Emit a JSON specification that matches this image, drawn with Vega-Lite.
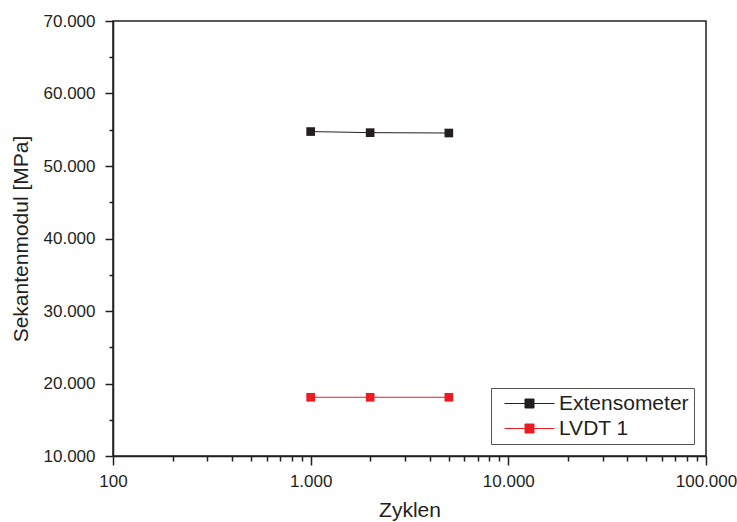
{
  "$schema": "https://vega.github.io/schema/vega-lite/v6.json",
  "width": 593,
  "height": 435,
  "autosize": "none",
  "padding": {"left": 113, "top": 21, "right": 31, "bottom": 66},
  "background": "white",
  "config": {
    "font": "Liberation Sans",
    "view": {"stroke": "#231f20", "strokeWidth": 1.5},
    "axis": {
      "domainColor": "#231f20",
      "domainWidth": 1.5,
      "tickColor": "#231f20",
      "tickWidth": 1.5,
      "labelColor": "#231f20",
      "titleColor": "#231f20",
      "labelFont": "Liberation Sans",
      "titleFont": "Liberation Sans",
      "labelFontSize": 17,
      "titleFontSize": 21,
      "titleFontWeight": "normal",
      "grid": false
    }
  },
  "data": {
    "values": [
      {"Zyklen": 1000, "Modul": 54750, "Serie": "Extensometer"},
      {"Zyklen": 2000, "Modul": 54600, "Serie": "Extensometer"},
      {"Zyklen": 5000, "Modul": 54550, "Serie": "Extensometer"},
      {"Zyklen": 1000, "Modul": 18100, "Serie": "LVDT 1"},
      {"Zyklen": 2000, "Modul": 18100, "Serie": "LVDT 1"},
      {"Zyklen": 5000, "Modul": 18100, "Serie": "LVDT 1"}
    ]
  },
  "encoding": {
    "x": {
      "field": "Zyklen",
      "type": "quantitative",
      "scale": {"type": "log", "domain": [100, 100000], "nice": false},
      "axis": {
        "title": "Zyklen",
        "values": [100, 200, 300, 400, 500, 600, 700, 800, 900, 1000, 2000, 3000, 4000, 5000, 6000, 7000, 8000, 9000, 10000, 20000, 30000, 40000, 50000, 60000, 70000, 80000, 90000, 100000],
        "labelExpr": "indexof([100, 1000, 10000, 100000], datum.value) >= 0 ? replace(format(datum.value, ','), ',', '.') : ''",
        "tickSize": {"condition": {"test": "indexof([100, 1000, 10000, 100000], datum.value) >= 0", "value": 9}, "value": 5},
        "labelPadding": 8,
        "labelFlush": false,
        "labelOverlap": false,
        "titlePadding": 10
      }
    },
    "y": {
      "field": "Modul",
      "type": "quantitative",
      "scale": {"domain": [10000, 70000], "nice": false, "zero": false},
      "axis": {
        "title": "Sekantenmodul [MPa]",
        "values": [10000, 15000, 20000, 25000, 30000, 35000, 40000, 45000, 50000, 55000, 60000, 65000, 70000],
        "labelExpr": "datum.value % 10000 === 0 ? replace(format(datum.value, ','), ',', '.') : ''",
        "tickSize": {"condition": {"test": "datum.value % 10000 === 0", "value": 8}, "value": 4},
        "labelPadding": 10,
        "labelFlush": false,
        "labelOverlap": false,
        "titlePadding": 12
      }
    },
    "color": {
      "field": "Serie",
      "type": "nominal",
      "scale": {"domain": ["Extensometer", "LVDT 1"], "range": ["#231f20", "#ed1c24"]},
      "legend": {
        "title": null,
        "orient": "bottom-right",
        "offset": 12,
        "strokeColor": "#555555",
        "fillColor": "white",
        "padding": 5,
        "labelFontSize": 21,
        "labelFont": "Liberation Sans",
        "labelColor": "#231f20",
        "symbolType": "M-0.4,0H3.8M5.4,0H9.6M3.7,-0.9H5.5V0.9H3.7Z",
        "symbolSize": 100,
        "symbolStrokeWidth": 1,
        "symbolOpacity": 1,
        "rowPadding": 3,
        "labelOffset": 42
      }
    }
  },
  "layer": [
    {"mark": {"type": "line", "strokeWidth": 1}},
    {"mark": {"type": "point", "shape": "square", "filled": true, "size": 75, "opacity": 1}}
  ]
}
